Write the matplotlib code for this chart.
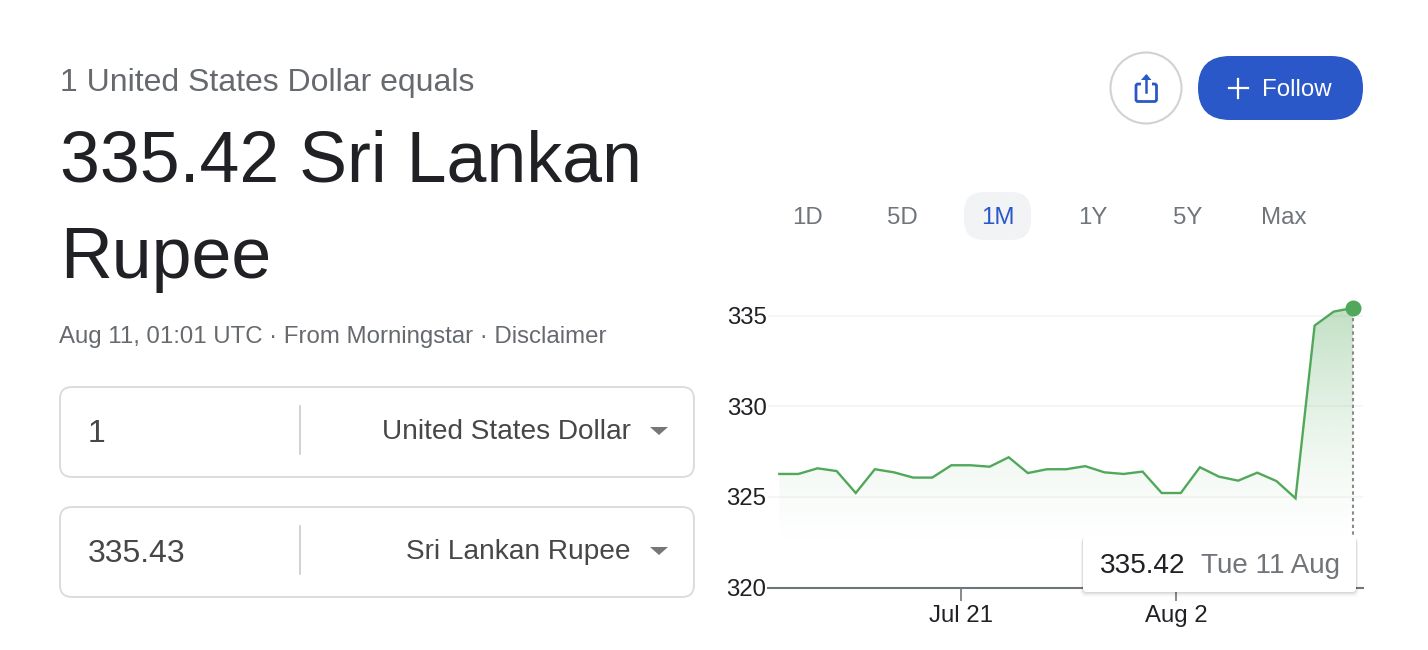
import numpy as np
import matplotlib
matplotlib.use("Agg")
import matplotlib.pyplot as plt
from matplotlib.patches import FancyBboxPatch, Circle, Polygon, Rectangle

plt.rcParams['font.family'] = ['Liberation Sans', 'DejaVu Sans']

# ---- data ----
rates = [326.27, 326.27, 326.58, 326.43, 325.22, 326.53, 326.36, 326.07, 326.07, 326.75,
         326.75, 326.67, 327.19, 326.32, 326.53, 326.53, 326.70, 326.36, 326.27, 326.40,
         325.22, 325.22, 326.64, 326.12, 325.90, 326.34, 325.88, 324.93, 334.45, 335.22,
         335.42]
y_ticks = [320, 325, 330, 335]
x_tick_pos = [9.5, 20.75]
x_tick_labels = ["Jul 21", "Aug 2"]
ranges = ["1D", "5D", "1M", "1Y", "5Y", "Max"]
title_lines = ["335.42 Sri Lankan", "Rupee"]
pre_title = "1 United States Dollar equals"
subtitle = "Aug 11, 01:01 UTC · From Morningstar · Disclaimer"
amounts = ["1", "335.43"]
currencies = ["United States Dollar", "Sri Lankan Rupee"]
tooltip_value = "335.42"
tooltip_date = "Tue 11 Aug"

W, H = 1428, 650
GREEN = "#52a85a"
BLUE = "#2a58c9"
PX = 0.72  # px -> pt at dpi 100

fig = plt.figure(figsize=(W / 100, H / 100), dpi=100, facecolor="white")

# ---- chart ----
L, R, B, T = 768, 1363, 587.7, 279.3
ax = fig.add_axes([L / W, 1 - B / H, (R - L) / W, (B - T) / H])
x = np.arange(len(rates))
for s in ["top", "left", "right"]:
    ax.spines[s].set_visible(False)
ax.spines["bottom"].set_color("#70757a")
ax.spines["bottom"].set_linewidth(1.5)
ax.set_yticks(y_ticks)
ax.set_yticklabels([str(v) for v in y_ticks], fontsize=24 * PX, color="#202124")
ax.tick_params(axis="y", length=0, pad=1)
ax.set_xticks(x_tick_pos)
ax.set_xticklabels(x_tick_labels, fontsize=24 * PX, color="#202124")
ax.tick_params(axis="x", length=13 * PX, width=1.2, color="#70757a", pad=3)
ax.grid(axis="y", color="#f5f5f5", linewidth=1.2)
ax.set_axisbelow(True)

# gradient fill under the line
poly = ax.fill_between(x, rates, 320, color="none", linewidth=0)
grad = np.zeros((256, 2, 4))
grad[..., :3] = matplotlib.colors.to_rgb(GREEN)
t = np.linspace(1, 0, 256)  # 1 at the top of the image
grad[..., 3] = (0.36 * t ** 1.5)[:, None]
im = ax.imshow(grad, extent=[x[0], x[-1], 322.0, max(rates)], origin="upper",
               aspect="auto", zorder=1.5, interpolation="bilinear")
im.set_clip_path(poly.get_paths()[0], transform=ax.transData)
ax.set_xlim(-0.59, 30.53)
ax.set_ylim(320, 337)

ax.plot(x, rates, color=GREEN, linewidth=1.7, zorder=3, solid_joinstyle="miter")
ax.vlines(x[-1], 320, rates[-1], color="#8a8a8a", linewidth=1.5, linestyles=(0, (1.6, 1.6)), zorder=3)
ax.plot([x[-1]], [rates[-1]], "o", color=GREEN, markersize=16 * PX, markeredgewidth=0,
        clip_on=False, zorder=4)

# ---- page furniture in pixel coordinates ----
ui = fig.add_axes([0, 0, 1, 1], zorder=5)
ui.set_xlim(0, W)
ui.set_ylim(H, 0)
ui.axis("off")
ui.patch.set_alpha(0)


def txt(px, py, s, size, color, ha="left", va="baseline", **kw):
    ui.text(px, py, s, fontsize=size * PX, color=color, ha=ha, va=va, **kw)


def rbox(x0, y0, x1, y1, r, **kw):
    p = FancyBboxPatch((x0 + r, y0 + r), x1 - x0 - 2 * r, y1 - y0 - 2 * r,
                       boxstyle=f"round,pad={r},rounding_size={r}", **kw)
    ui.add_patch(p)
    return p


txt(60, 91, pre_title, 32, "#666a6e")
txt(60, 182, title_lines[0], 71.8, "#202124")
txt(60, 278, title_lines[1], 71.8, "#202124")
txt(59, 343, subtitle, 24, "#666a6e")

# converter boxes
for i, (y0, amt, cur) in enumerate(zip([387, 507], amounts, currencies)):
    rbox(60, y0, 694, y0 + 90, 12, facecolor="white", edgecolor="#dadce0", linewidth=1.4)
    ui.plot([300, 300], [y0 + 19, y0 + 67], color="#c8c9cb", linewidth=1.2)
    txt(88, y0 + 55, amt, 32, "#474747")
    txt(631, y0 + 52, cur, 28, "#474747", ha="right")
    ui.add_patch(Polygon([(650, y0 + 40), (668, y0 + 40), (659, y0 + 48)],
                         closed=True, facecolor="#777777", edgecolor="none"))

# share button
ui.add_patch(Circle((1146, 88), 35.5, facecolor="white", edgecolor="#d2d2d2", linewidth=1.5))
rbox(1136, 84, 1156.5, 101.5, 2, facecolor="none", edgecolor=BLUE, linewidth=2)
ui.add_patch(Rectangle((1141, 80), 10.5, 8, facecolor="white", edgecolor="none", zorder=3))
ui.plot([1146.3, 1146.3], [76, 92], color=BLUE, linewidth=1.8, zorder=4)
ui.add_patch(Polygon([(1141, 80), (1146.3, 74), (1151.5, 80)], closed=True,
                     facecolor=BLUE, edgecolor="none", zorder=4))

# follow button
rbox(1198, 56, 1363, 120, 32, facecolor=BLUE, edgecolor="none")
ui.plot([1228.5, 1247.5], [88, 88], color="white", linewidth=1.6)
ui.plot([1238, 1238], [78.5, 97.5], color="white", linewidth=1.6)
txt(1262, 96.5, "Follow", 24, "white")

# range selector
rbox(964, 192, 1031, 240, 20, facecolor="#f1f3f4", edgecolor="none")
for cx, lab in zip([807, 902, 998, 1093, 1188, 1284], ranges):
    txt(cx, 224, lab, 24, BLUE if lab == "1M" else "#70757a", ha="center")

# tooltip
for off, a in [(5, 0.015), (4, 0.02), (3, 0.03), (2, 0.04), (1, 0.05)]:
    rbox(1083 - off / 2, 536 + off / 2, 1356 + off / 2, 592 + off, 5,
         facecolor="black", edgecolor="none", alpha=a)
rbox(1083, 536, 1356, 592, 4, facecolor="white", edgecolor="none")
txt(1100, 573, tooltip_value, 28, "#202124")
txt(1201, 573, tooltip_date, 27.7, "#70757a")

fig.savefig("out.png", dpi=100, facecolor="white")
